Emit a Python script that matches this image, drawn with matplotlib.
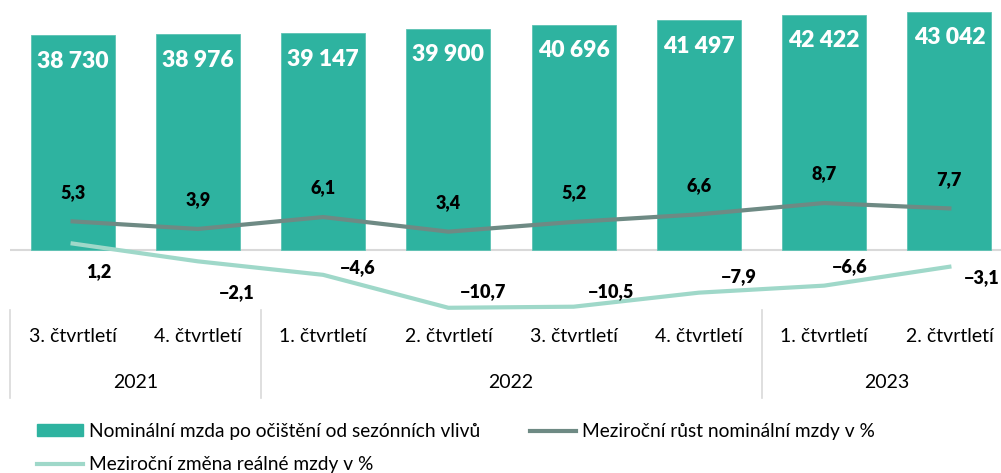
import matplotlib.pyplot as plt
import matplotlib.transforms as mtransforms
from matplotlib.lines import Line2D
from matplotlib.patches import Patch

plt.rcParams['font.family'] = ['Lato', 'DejaVu Sans']

# data
quarters = ['3. čtvrtletí', '4. čtvrtletí', '1. čtvrtletí', '2. čtvrtletí',
            '3. čtvrtletí', '4. čtvrtletí', '1. čtvrtletí', '2. čtvrtletí']
quarter_years = ['2021', '2021', '2022', '2022', '2022', '2022', '2023', '2023']
nominal_wage = [38730, 38976, 39147, 39900, 40696, 41497, 42422, 43042]
nominal_growth = [5.3, 3.9, 6.1, 3.4, 5.2, 6.6, 8.7, 7.7]
real_change = [1.2, -2.1, -4.6, -10.7, -10.5, -7.9, -6.6, -3.1]

# label offsets for real wage series (pixels, x right / y up)
real_offsets = [(26, -28), (39, -31), (35, 7), (35, 16), (37, 15), (40, 16), (26, 19), (32, -11)]

bar_color = '#2EB3A0'
nom_color = '#6E8A84'
real_color = '#9FD8C9'
grid_color = '#D9D9D9'

W, H = 1001, 473
fig = plt.figure(figsize=(W / 100, H / 100), dpi=100)
ax = fig.add_axes([10 / W, 1 - 310 / H, 1002 / W, 310 / H])
ax2 = ax.twinx()

x = list(range(len(quarters)))

# primary axis: bars
s1 = 0.00554
ax.bar(x, nominal_wage, width=0.67, color=bar_color, edgecolor='#5CC2B3', linewidth=0.6)
ax.set_ylim(-60 / s1, 250 / s1)
ax.set_xlim(-0.5, len(quarters) - 0.5)
ax.axhline(0, color=grid_color, lw=1.5, zorder=0)
for xi, v in zip(x, nominal_wage):
    ax.annotate(f'{v:,}'.replace(',', ' '), (xi, v), xytext=(0, -26),
                textcoords='offset pixels', ha='center', va='center',
                color='white', fontsize=16.5, fontweight='heavy')

# secondary axis: lines
s2 = 5.4
ax2.set_ylim(-60 / s2, 250 / s2)
ax2.plot(x, nominal_growth, color=nom_color, lw=3)
ax2.plot(x, real_change, color=real_color, lw=3)

def fmt(v):
    return f'{v:.1f}'.replace('.', ',').replace('-', '\u2212')

for xi, v in zip(x, nominal_growth):
    ax2.annotate(fmt(v), (xi, v), xytext=(0, 29), textcoords='offset pixels',
                 ha='center', va='center', fontsize=13, fontweight='heavy', color='black')
for xi, v, (dx, dy) in zip(x, real_change, real_offsets):
    ax2.annotate(fmt(v), (xi, v), xytext=(dx, dy), textcoords='offset pixels',
                 ha='center', va='center', fontsize=13, fontweight='heavy', color='black')

for a in (ax, ax2):
    for sp in a.spines.values():
        sp.set_visible(False)
    a.set_xticks([])
    a.set_yticks([])

# category table below the axis
trans = mtransforms.blended_transform_factory(ax.transData, fig.transFigure)
for xi, q in zip(x, quarters):
    ax.text(xi, 1 - 337 / H, q, transform=trans, ha='center', va='center',
            fontsize=14, clip_on=False)

years = []
for y in quarter_years:
    if y not in years:
        years.append(y)
start = 0
for y in years:
    n = quarter_years.count(y)
    ax.text(start + (n - 1) / 2, 1 - 382 / H, y, transform=trans, ha='center',
            va='center', fontsize=14, clip_on=False)
    ax.plot([start - 0.5, start - 0.5], [1 - 310 / H, 1 - 398 / H], transform=trans,
            color=grid_color, lw=1.2, clip_on=False)
    start += n

handles = [Patch(facecolor=bar_color, edgecolor=bar_color),
           Line2D([], [], color=real_color, lw=3),
           Line2D([], [], color=nom_color, lw=3)]
labels = ['Nominální mzda po očištění od sezónních vlivů',
          'Meziroční změna reálné mzdy v %',
          'Meziroční růst nominální mzdy v %']
fig.legend(handles, labels, loc='upper left', bbox_to_anchor=(37 / W, 1 - 423 / H),
           ncol=2, frameon=False, fontsize=13.8, handlelength=2.4, handleheight=0.55,
           handletextpad=0.3, columnspacing=2.6, labelspacing=0.85,
           borderpad=0, borderaxespad=0)

fig.savefig('out.png', dpi=100)
